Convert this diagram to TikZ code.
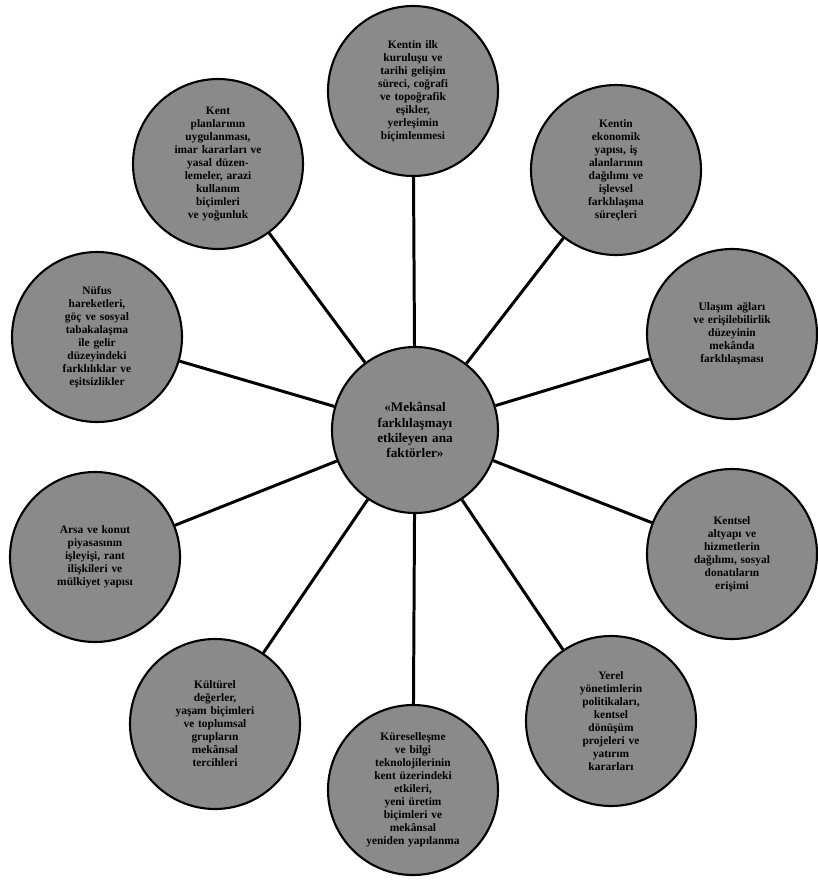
\documentclass[tikz,border=0pt]{standalone}
\usepackage{fontspec}
\setmainfont{Liberation Serif}
\usepackage{tikz}
\usetikzlibrary{positioning}
\definecolor{discgray}{HTML}{8A8A8A}

\begin{document}
\begin{tikzpicture}[
  topic/.style={circle, draw=black, line width=1.2pt, fill=discgray, inner sep=0pt, minimum size=3.4cm, text width=2.3cm, align=center, font=\fontsize{6.5}{7.4}\selectfont\bfseries},
  hub/.style={topic, minimum size=3.32cm, text width=2.1cm, font=\fontsize{7.5}{8.6}\selectfont\bfseries},
  spoke/.style={line width=1.7pt, draw=black},
]
\useasboundingbox (0,0) rectangle (16.34,-17.64);
\node[hub] (core) at (8.30,-8.60) {«Mekânsal\\farklılaşmayı\\etkileyen ana\\faktörler»};
\node[topic] (top) at (8.26,-1.82) {Kentin ilk\\kuruluşu ve\\tarihi gelişim\\süreci, coğrafi\\ve topoğrafik\\eşikler,\\yerleşimin\\biçimlenmesi};
\node[topic] (topleft) at (4.36,-3.28) {Kent\\planlarının\\uygulanması,\\imar kararları ve\\yasal düzen-\\lemeler, arazi\\kullanım\\biçimleri\\ve yoğunluk};
\node[topic] (topright) at (12.32,-3.40) {Kentin\\ekonomik\\yapısı, iş\\alanlarının\\dağılımı ve\\işlevsel\\farklılaşma\\süreçleri};
\node[topic] (left) at (1.94,-6.74) {Nüfus\\hareketleri,\\göç ve sosyal\\tabakalaşma\\ile gelir\\düzeyindeki\\farklılıklar ve\\eşitsizlikler};
\node[topic] (right) at (14.64,-6.68) {Ulaşım ağları\\ve erişilebilirlik\\düzeyinin\\mekânda\\farklılaşması};
\node[topic] (lowleft) at (1.90,-11.14) {Arsa ve konut\\piyasasının\\işleyişi, rant\\ilişkileri ve\\mülkiyet yapısı};
\node[topic] (lowright) at (14.64,-11.08) {Kentsel\\altyapı ve\\hizmetlerin\\dağılımı, sosyal\\donatıların\\erişimi};
\node[topic] (botleft) at (4.30,-14.48) {Kültürel\\değerler,\\yaşam biçimleri\\ve toplumsal\\grupların\\mekânsal\\tercihleri};
\node[topic] (botright) at (12.22,-14.42) {Yerel\\yönetimlerin\\politikaları,\\kentsel\\dönüşüm\\projeleri ve\\yatırım\\kararları};
\node[topic] (bottom) at (8.26,-15.80) {Küreselleşme\\ve bilgi\\teknolojilerinin\\kent üzerindeki\\etkileri,\\yeni üretim\\biçimleri ve\\mekânsal\\yeniden yapılanma};
% spokes from the hub
\foreach \n in {top,topleft,topright,left,right,lowleft,lowright,botleft,botright,bottom}
  \draw[spoke] (core) -- (\n);
\end{tikzpicture}
\end{document}
